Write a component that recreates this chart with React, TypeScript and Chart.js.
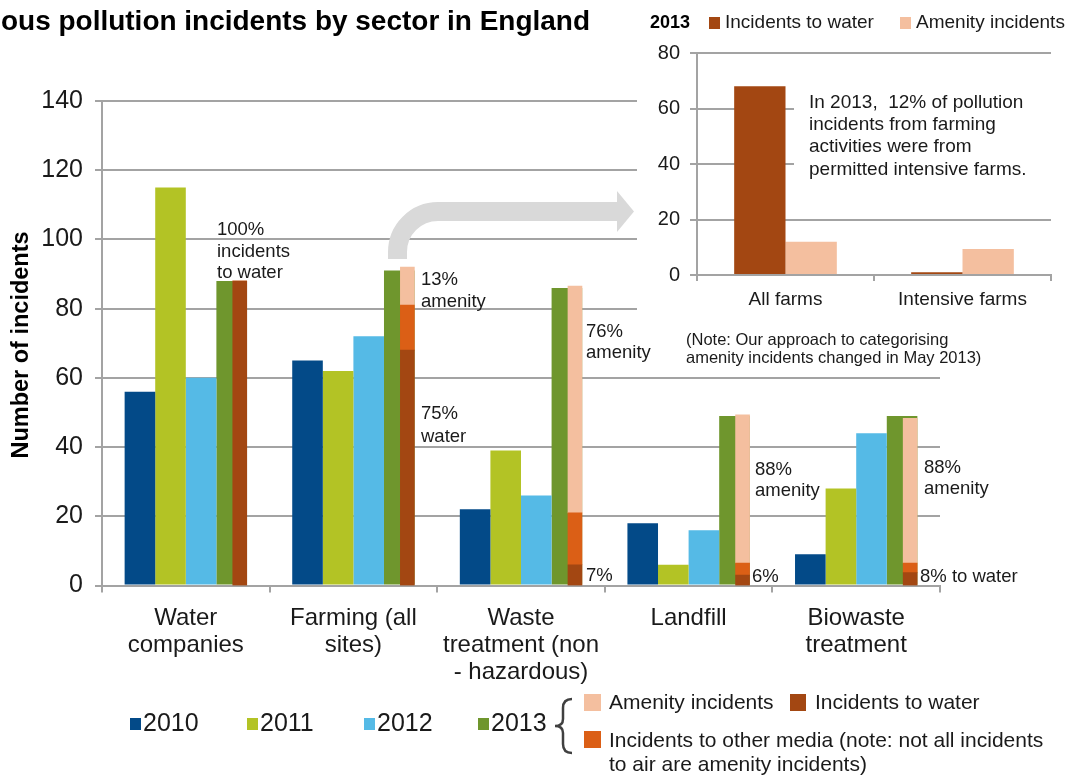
import React, { useEffect, useRef } from "react";
import { Chart, registerables } from "chart.js";
Chart.register(...registerables);

// ---------- DATA ----------
const categories = [
  ["Water", "companies"],
  ["Farming (all", "sites)"],
  ["Waste", "treatment (non", "- hazardous)"],
  ["Landfill"],
  ["Biowaste", "treatment"],
];
const yearLabels = ["2010", "2011", "2012", "2013"];
const values2010 = [56, 65, 22, 18, 9];
const values2011 = [115, 62, 39, 6, 28];
const values2012 = [60, 72, 26, 16, 44];
const values2013 = [88, 91, 86, 49, 49];
const water2013 = [88, 68, 6, 3, 3.7];
const otherMedia2013 = [0, 13, 15, 3.5, 2.8];
const amenity2013 = [0, 11, 65.5, 42.8, 41.8];
const yMin = 0;
const yMax = 140;
const yStep = 20;

const insetCategories = ["All farms", "Intensive farms"];
const insetWater = [68, 1];
const insetAmenity = [12, 9.4];
const insetMax = 80;
const insetStep = 20;

const titleText = "ous pollution incidents by sector in England";
const yTitle = "Number of incidents";
const stackLegend = ["Amenity incidents", "Incidents to water", "Incidents to other media (note: not all incidents", "to air are amenity incidents)"];
const insetNote = ["In 2013,  12% of pollution", "incidents from farming", "activities were from", "permitted intensive farms."];
const approachNote = ["(Note: Our approach to categorising", "amenity incidents changed in May 2013)"];

// ---------- STYLE ----------
const FONT = "'Liberation Sans', Arial, Helvetica, sans-serif";
const yearColors = ["#034A88", "#B3C325", "#55BAE6", "#6F962D"];
const C_WATER = "#A34712";
const C_OTHER = "#DB5F16";
const C_AMEN = "#F4BF9F";
const GRID = "#A3A3A3";
const TXT = "#1a1a1a";
// the 2013 breakdown bar sits over the right part of the 2013 bar (fraction of a category width)
const STACK_SHIFT = 0.322;
// main plot area
const PAD = { left: 102, top: 101, right: 132, bottom: 190.5 };

function txt(ctx: CanvasRenderingContext2D, s: string, x: number, y: number, font: string, align: CanvasTextAlign = "left", color = TXT) {
  ctx.font = font;
  ctx.fillStyle = color;
  ctx.textAlign = align;
  ctx.textBaseline = "middle";
  ctx.fillText(s, x, y);
}

const mainDecor = {
  id: "mainDecor",
  afterDraw(chart: any) {
    const ctx: CanvasRenderingContext2D = chart.ctx;
    ctx.save();
    // title
    ctx.font = `bold 28px ${FONT}`;
    ctx.fillStyle = "#000";
    ctx.textAlign = "left";
    ctx.textBaseline = "alphabetic";
    ctx.fillText(titleText, 1, 30, 589);
    // y title
    ctx.save();
    ctx.translate(22, 345);
    ctx.rotate(-Math.PI / 2);
    txt(ctx, yTitle, 0, 0, `bold 23.5px ${FONT}`, "center", "#000");
    ctx.restore();

    // annotations
    const f = `18.5px ${FONT}`;
    const lines: [string, number, number][] = [
      ["100%", 217, 230], ["incidents", 217, 252], ["to water", 217, 273],
      ["13%", 421, 280], ["amenity", 421, 302],
      ["75%", 421, 414], ["water", 421, 437],
      ["76%", 586, 332], ["amenity", 586, 353],
      ["7%", 586, 576],
      ["88%", 755, 470], ["amenity", 755, 491],
      ["6%", 752, 577],
      ["88%", 924, 468], ["amenity", 924, 489],
      ["8% to water", 920, 577],
    ];
    for (const [s, x, y] of lines) txt(ctx, s, x, y, f);

    // arrow
    ctx.strokeStyle = "#D9D9D9";
    ctx.lineWidth = 19;
    ctx.lineCap = "butt";
    ctx.beginPath();
    ctx.moveTo(397.5, 259);
    ctx.lineTo(397.5, 252);
    ctx.arc(438, 252, 40.5, Math.PI, 1.5 * Math.PI);
    ctx.lineTo(618, 211.5);
    ctx.stroke();
    ctx.fillStyle = "#D9D9D9";
    ctx.beginPath();
    ctx.moveTo(617, 191);
    ctx.lineTo(634, 211.5);
    ctx.lineTo(617, 232);
    ctx.closePath();
    ctx.fill();

    // year legend
    const lf = `25px ${FONT}`;
    const lx = [130, 247, 364, 478];
    yearLabels.forEach((l, i) => {
      ctx.fillStyle = yearColors[i];
      ctx.fillRect(lx[i], 718, 11, 12);
      txt(ctx, l, lx[i] + 13, 724, lf);
    });

    // brace
    ctx.strokeStyle = "#404040";
    ctx.lineWidth = 2.5;
    ctx.beginPath();
    ctx.moveTo(572, 699);
    ctx.quadraticCurveTo(563, 699, 563, 708);
    ctx.lineTo(563, 719);
    ctx.quadraticCurveTo(563, 726, 555, 726);
    ctx.quadraticCurveTo(563, 726, 563, 733);
    ctx.lineTo(563, 744);
    ctx.quadraticCurveTo(563, 753, 572, 753);
    ctx.stroke();

    // stacked legend
    const sf = `21px ${FONT}`;
    ctx.fillStyle = C_AMEN;
    ctx.fillRect(584, 694, 17, 17);
    txt(ctx, stackLegend[0], 609, 703, sf);
    ctx.fillStyle = C_WATER;
    ctx.fillRect(790, 694, 16, 17);
    txt(ctx, stackLegend[1], 815, 703, sf);
    ctx.fillStyle = C_OTHER;
    ctx.fillRect(584, 731, 17, 17);
    txt(ctx, stackLegend[2], 609, 741, sf);
    txt(ctx, stackLegend[3], 609, 765, sf);
    ctx.restore();
  },
};

const insetDecor = {
  id: "insetDecor",
  beforeDraw(chart: any) {
    const ctx: CanvasRenderingContext2D = chart.ctx;
    ctx.save();
    ctx.fillStyle = "#fff";
    ctx.fillRect(0, 0, chart.width, 326);
    ctx.restore();
  },
  afterDraw(chart: any) {
    const ctx: CanvasRenderingContext2D = chart.ctx;
    ctx.save();
    // header legend
    txt(ctx, "2013", 13, 23, `bold 18px ${FONT}`, "left", "#000");
    ctx.fillStyle = C_WATER;
    ctx.fillRect(72, 17, 11, 12);
    txt(ctx, "Incidents to water", 88, 23, `19px ${FONT}`);
    ctx.fillStyle = C_AMEN;
    ctx.fillRect(263, 17, 11, 12);
    txt(ctx, "Amenity incidents", 279, 23, `19px ${FONT}`);
    // annotation box
    ctx.fillStyle = "#fff";
    ctx.fillRect(157, 88, 278, 102);
    const ys = [103, 125, 147, 170];
    insetNote.forEach((s, i) => txt(ctx, s, 172, ys[i], `19px ${FONT}`));
    // note
    txt(ctx, approachNote[0], 49, 340, `16.5px ${FONT}`);
    txt(ctx, approachNote[1], 49, 358, `16.5px ${FONT}`);
    ctx.restore();
  },
};

export default function App() {
  const mainRef = useRef<HTMLCanvasElement>(null);
  const stackRef = useRef<HTMLCanvasElement>(null);
  const insetRef = useRef<HTMLCanvasElement>(null);

  useEffect(() => {
    document.body.style.margin = "0";
    const yearSeries = [values2010, values2011, values2012, values2013];
    const n = categories.length;

    const main = new Chart(mainRef.current!, {
      type: "bar",
      data: {
        labels: categories as any,
        datasets: yearSeries.map((d, i) => ({
          label: yearLabels[i],
          data: d,
          backgroundColor: yearColors[i],
          categoryPercentage: 0.73,
          barPercentage: 1,
        })),
      },
      options: {
        responsive: false,
        animation: false,
        events: [],
        layout: { padding: { left: 0, top: PAD.top, right: PAD.right, bottom: PAD.bottom - 110 } },
        plugins: { legend: { display: false }, tooltip: { enabled: false }, title: { display: false } },
        scales: {
          x: {
            type: "category",
            offset: true,
            grid: { offset: true, drawOnChartArea: false, drawTicks: true, tickLength: 7, color: GRID, lineWidth: 2 },
            border: { color: GRID, width: 2 },
            ticks: { font: { family: FONT, size: 24, lineHeight: 1.13 }, color: TXT, padding: 12, maxRotation: 0, autoSkip: false },
            afterFit: (s: any) => { s.height = 110; },
          },
          y: {
            min: yMin,
            max: yMax,
            ticks: { stepSize: yStep, font: { family: FONT, size: 25 }, color: TXT, padding: 12 },
            grid: { color: GRID, lineWidth: 2, tickLength: 7 },
            border: { color: GRID, width: 2 },
            afterFit: (s: any) => { s.width = PAD.left; },
          },
        },
      } as any,
      plugins: [mainDecor],
    });

    // 2013 breakdown (stacked) drawn over the 2013 bars on the same plot area
    const stackDs = (label: string, data: number[], color: string) => ({
      label,
      data: data.map((v, i) => ({ x: i, y: v })),
      backgroundColor: color,
      stack: "s",
      barThickness: 14,
    });
    const stacked = new Chart(stackRef.current!, {
      type: "bar",
      data: {
        datasets: [
          stackDs("Incidents to water", water2013, C_WATER),
          stackDs("Incidents to other media", otherMedia2013, C_OTHER),
          stackDs("Amenity incidents", amenity2013, C_AMEN),
        ],
      },
      options: {
        responsive: false,
        animation: false,
        events: [],
        layout: { padding: PAD },
        plugins: { legend: { display: false }, tooltip: { enabled: false } },
        scales: {
          x: { type: "linear", display: false, offset: false, min: -0.5 - STACK_SHIFT, max: n - 0.5 - STACK_SHIFT, grid: { display: false } },
          y: { display: false, stacked: true, min: yMin, max: yMax, grid: { display: false } },
        },
      } as any,
    });

    const inset = new Chart(insetRef.current!, {
      type: "bar",
      data: {
        labels: insetCategories,
        datasets: [
          { label: "Incidents to water", data: insetWater, backgroundColor: C_WATER, categoryPercentage: 0.58, barPercentage: 1 },
          { label: "Amenity incidents", data: insetAmenity, backgroundColor: C_AMEN, categoryPercentage: 0.58, barPercentage: 1 },
        ],
      },
      options: {
        responsive: false,
        animation: false,
        events: [],
        layout: { padding: { left: 0, top: 53, right: 21, bottom: 47 } },
        plugins: { legend: { display: false }, tooltip: { enabled: false } },
        scales: {
          x: {
            grid: { offset: true, drawOnChartArea: false, tickLength: 6, color: GRID, lineWidth: 2 },
            border: { color: GRID, width: 2 },
            ticks: { font: { family: FONT, size: 19 }, color: TXT, padding: 7 },
            afterFit: (s: any) => { s.height = 50; },
          },
          y: {
            min: 0,
            max: insetMax,
            ticks: { stepSize: insetStep, font: { family: FONT, size: 20 }, color: TXT, padding: 10 },
            grid: { color: GRID, lineWidth: 2, tickLength: 7 },
            border: { color: GRID, width: 2 },
            afterFit: (s: any) => { s.width = 60; },
          },
        },
      } as any,
      plugins: [insetDecor],
    });

    return () => {
      main.destroy();
      stacked.destroy();
      inset.destroy();
    };
  }, []);

  return (
    <div style={{ position: "fixed", left: 0, top: 0, width: 1072, height: 776, background: "#fff", overflow: "hidden" }}>
      <canvas ref={mainRef} width={1072} height={776} style={{ position: "absolute", left: 0, top: 0, width: 1072, height: 776 }} />
      <canvas ref={stackRef} width={1072} height={776} style={{ position: "absolute", left: 0, top: 0, width: 1072, height: 776 }} />
      <canvas ref={insetRef} width={435} height={372} style={{ position: "absolute", left: 637, top: 0, width: 435, height: 372 }} />
    </div>
  );
}
